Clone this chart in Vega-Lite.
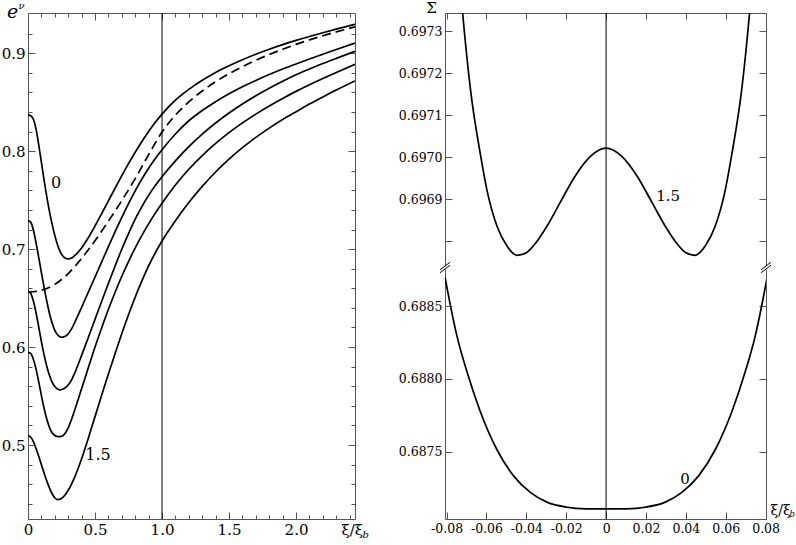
{
  "$schema": "https://vega.github.io/schema/vega-lite/v6.json",
  "background": "white",
  "padding": {"left": 1, "top": 0, "right": 0, "bottom": 0},
  "config": {
    "view": {"stroke": null},
    "font": "DejaVu Serif",
    "axis": {
      "grid": false, "domainColor": "#555", "tickColor": "#555", "domainWidth": 1, "tickWidth": 1,
      "labelColor": "black", "labelFont": "DejaVu Serif", "titleFont": "DejaVu Serif",
      "titleFontWeight": "normal", "titleColor": "black",
      "labelFlush": false, "labelOverlap": false, "labelBound": false
    },
    "text": {"font": "DejaVu Serif"}
  },
  "datasets": {
    "solid": [
      {"c": "A", "x": 0, "y": 0.837}, {"c": "A", "x": 0.02, "y": 0.8362}, {"c": "A", "x": 0.04, "y": 0.8325}, {"c": "A", "x": 0.06, "y": 0.8225},
      {"c": "A", "x": 0.08, "y": 0.8065}, {"c": "A", "x": 0.1, "y": 0.7885}, {"c": "A", "x": 0.12, "y": 0.7705}, {"c": "A", "x": 0.14, "y": 0.7535},
      {"c": "A", "x": 0.16, "y": 0.7385}, {"c": "A", "x": 0.18, "y": 0.7255}, {"c": "A", "x": 0.2, "y": 0.714}, {"c": "A", "x": 0.22, "y": 0.7045},
      {"c": "A", "x": 0.24, "y": 0.6975}, {"c": "A", "x": 0.26, "y": 0.693}, {"c": "A", "x": 0.28, "y": 0.6907}, {"c": "A", "x": 0.3, "y": 0.69},
      {"c": "A", "x": 0.32, "y": 0.6906}, {"c": "A", "x": 0.35, "y": 0.6936}, {"c": "A", "x": 0.4, "y": 0.7012}, {"c": "A", "x": 0.45, "y": 0.7116},
      {"c": "A", "x": 0.5, "y": 0.7236}, {"c": "A", "x": 0.55, "y": 0.7363}, {"c": "A", "x": 0.6, "y": 0.7493}, {"c": "A", "x": 0.65, "y": 0.7623},
      {"c": "A", "x": 0.7, "y": 0.775}, {"c": "A", "x": 0.75, "y": 0.7872}, {"c": "A", "x": 0.8, "y": 0.7989}, {"c": "A", "x": 0.85, "y": 0.8098},
      {"c": "A", "x": 0.9, "y": 0.82}, {"c": "A", "x": 0.95, "y": 0.8294}, {"c": "A", "x": 1.0, "y": 0.8378}, {"c": "A", "x": 1.1, "y": 0.852},
      {"c": "A", "x": 1.2, "y": 0.863}, {"c": "A", "x": 1.3, "y": 0.8723}, {"c": "A", "x": 1.4, "y": 0.8803}, {"c": "A", "x": 1.5, "y": 0.8871},
      {"c": "A", "x": 1.6, "y": 0.8933}, {"c": "A", "x": 1.7, "y": 0.8989}, {"c": "A", "x": 1.8, "y": 0.904}, {"c": "A", "x": 1.9, "y": 0.9087},
      {"c": "A", "x": 2.0, "y": 0.913}, {"c": "A", "x": 2.1, "y": 0.917}, {"c": "A", "x": 2.2, "y": 0.9208}, {"c": "A", "x": 2.3, "y": 0.9245},
      {"c": "A", "x": 2.44, "y": 0.9295},

      {"c": "B", "x": 0, "y": 0.729}, {"c": "B", "x": 0.02, "y": 0.7275}, {"c": "B", "x": 0.04, "y": 0.7195}, {"c": "B", "x": 0.06, "y": 0.7065},
      {"c": "B", "x": 0.08, "y": 0.6915}, {"c": "B", "x": 0.1, "y": 0.676}, {"c": "B", "x": 0.12, "y": 0.661}, {"c": "B", "x": 0.14, "y": 0.647},
      {"c": "B", "x": 0.16, "y": 0.6345}, {"c": "B", "x": 0.18, "y": 0.6245}, {"c": "B", "x": 0.2, "y": 0.617}, {"c": "B", "x": 0.22, "y": 0.6125},
      {"c": "B", "x": 0.24, "y": 0.6104}, {"c": "B", "x": 0.25, "y": 0.61}, {"c": "B", "x": 0.275, "y": 0.6108}, {"c": "B", "x": 0.3, "y": 0.6135},
      {"c": "B", "x": 0.325, "y": 0.6185}, {"c": "B", "x": 0.35, "y": 0.6255}, {"c": "B", "x": 0.4, "y": 0.6405}, {"c": "B", "x": 0.45, "y": 0.656},
      {"c": "B", "x": 0.5, "y": 0.6715}, {"c": "B", "x": 0.55, "y": 0.687}, {"c": "B", "x": 0.6, "y": 0.7025}, {"c": "B", "x": 0.65, "y": 0.7178},
      {"c": "B", "x": 0.7, "y": 0.7325}, {"c": "B", "x": 0.75, "y": 0.7465}, {"c": "B", "x": 0.8, "y": 0.7595}, {"c": "B", "x": 0.85, "y": 0.7715},
      {"c": "B", "x": 0.9, "y": 0.7825}, {"c": "B", "x": 0.95, "y": 0.7925}, {"c": "B", "x": 1.0, "y": 0.8015}, {"c": "B", "x": 1.1, "y": 0.8175},
      {"c": "B", "x": 1.2, "y": 0.831}, {"c": "B", "x": 1.3, "y": 0.8415}, {"c": "B", "x": 1.4, "y": 0.8505}, {"c": "B", "x": 1.5, "y": 0.8585},
      {"c": "B", "x": 1.6, "y": 0.8657}, {"c": "B", "x": 1.7, "y": 0.8722}, {"c": "B", "x": 1.8, "y": 0.8782}, {"c": "B", "x": 1.9, "y": 0.8838},
      {"c": "B", "x": 2.0, "y": 0.889}, {"c": "B", "x": 2.1, "y": 0.894}, {"c": "B", "x": 2.2, "y": 0.8989}, {"c": "B", "x": 2.3, "y": 0.9037},
      {"c": "B", "x": 2.44, "y": 0.9104},

      {"c": "C", "x": 0, "y": 0.657}, {"c": "C", "x": 0.02, "y": 0.655}, {"c": "C", "x": 0.04, "y": 0.647}, {"c": "C", "x": 0.06, "y": 0.635},
      {"c": "C", "x": 0.08, "y": 0.6205}, {"c": "C", "x": 0.1, "y": 0.6055}, {"c": "C", "x": 0.12, "y": 0.592}, {"c": "C", "x": 0.14, "y": 0.5805},
      {"c": "C", "x": 0.16, "y": 0.5712}, {"c": "C", "x": 0.18, "y": 0.5643}, {"c": "C", "x": 0.2, "y": 0.5597}, {"c": "C", "x": 0.22, "y": 0.5572},
      {"c": "C", "x": 0.239, "y": 0.5564}, {"c": "C", "x": 0.27, "y": 0.5578}, {"c": "C", "x": 0.3, "y": 0.5612}, {"c": "C", "x": 0.325, "y": 0.5665},
      {"c": "C", "x": 0.35, "y": 0.574}, {"c": "C", "x": 0.4, "y": 0.5915}, {"c": "C", "x": 0.45, "y": 0.6098}, {"c": "C", "x": 0.5, "y": 0.6283},
      {"c": "C", "x": 0.55, "y": 0.6468}, {"c": "C", "x": 0.6, "y": 0.665}, {"c": "C", "x": 0.65, "y": 0.6828}, {"c": "C", "x": 0.7, "y": 0.6998},
      {"c": "C", "x": 0.75, "y": 0.7158}, {"c": "C", "x": 0.8, "y": 0.7305}, {"c": "C", "x": 0.85, "y": 0.7435}, {"c": "C", "x": 0.9, "y": 0.7548},
      {"c": "C", "x": 0.95, "y": 0.7648}, {"c": "C", "x": 1.0, "y": 0.7738}, {"c": "C", "x": 1.1, "y": 0.79}, {"c": "C", "x": 1.2, "y": 0.8045},
      {"c": "C", "x": 1.3, "y": 0.8173}, {"c": "C", "x": 1.4, "y": 0.8287}, {"c": "C", "x": 1.5, "y": 0.8389}, {"c": "C", "x": 1.6, "y": 0.8481},
      {"c": "C", "x": 1.7, "y": 0.8565}, {"c": "C", "x": 1.8, "y": 0.8642}, {"c": "C", "x": 1.9, "y": 0.8713}, {"c": "C", "x": 2.0, "y": 0.8779},
      {"c": "C", "x": 2.1, "y": 0.8838}, {"c": "C", "x": 2.2, "y": 0.8894}, {"c": "C", "x": 2.3, "y": 0.8947}, {"c": "C", "x": 2.44, "y": 0.9019},

      {"c": "D", "x": 0, "y": 0.5946}, {"c": "D", "x": 0.02, "y": 0.5935}, {"c": "D", "x": 0.04, "y": 0.5875}, {"c": "D", "x": 0.06, "y": 0.5775},
      {"c": "D", "x": 0.08, "y": 0.5645}, {"c": "D", "x": 0.1, "y": 0.5505}, {"c": "D", "x": 0.12, "y": 0.5375}, {"c": "D", "x": 0.14, "y": 0.5265},
      {"c": "D", "x": 0.16, "y": 0.518}, {"c": "D", "x": 0.18, "y": 0.5125}, {"c": "D", "x": 0.2, "y": 0.5097}, {"c": "D", "x": 0.22, "y": 0.5087},
      {"c": "D", "x": 0.236, "y": 0.5085}, {"c": "D", "x": 0.26, "y": 0.5095}, {"c": "D", "x": 0.28, "y": 0.5125}, {"c": "D", "x": 0.3, "y": 0.5175},
      {"c": "D", "x": 0.325, "y": 0.5262}, {"c": "D", "x": 0.35, "y": 0.5362}, {"c": "D", "x": 0.375, "y": 0.5468}, {"c": "D", "x": 0.4, "y": 0.5575},
      {"c": "D", "x": 0.45, "y": 0.579}, {"c": "D", "x": 0.5, "y": 0.6}, {"c": "D", "x": 0.55, "y": 0.6198}, {"c": "D", "x": 0.6, "y": 0.6385},
      {"c": "D", "x": 0.65, "y": 0.656}, {"c": "D", "x": 0.7, "y": 0.6723}, {"c": "D", "x": 0.75, "y": 0.6873}, {"c": "D", "x": 0.8, "y": 0.7012},
      {"c": "D", "x": 0.85, "y": 0.714}, {"c": "D", "x": 0.9, "y": 0.7258}, {"c": "D", "x": 0.95, "y": 0.7367}, {"c": "D", "x": 1.0, "y": 0.7468},
      {"c": "D", "x": 1.1, "y": 0.7655}, {"c": "D", "x": 1.2, "y": 0.7815}, {"c": "D", "x": 1.3, "y": 0.7955}, {"c": "D", "x": 1.4, "y": 0.8079},
      {"c": "D", "x": 1.5, "y": 0.8189}, {"c": "D", "x": 1.6, "y": 0.8288}, {"c": "D", "x": 1.7, "y": 0.8378}, {"c": "D", "x": 1.8, "y": 0.8461},
      {"c": "D", "x": 1.9, "y": 0.8538}, {"c": "D", "x": 2.0, "y": 0.861}, {"c": "D", "x": 2.1, "y": 0.8678}, {"c": "D", "x": 2.2, "y": 0.8742},
      {"c": "D", "x": 2.3, "y": 0.8803}, {"c": "D", "x": 2.44, "y": 0.8886},

      {"c": "E", "x": 0, "y": 0.5095}, {"c": "E", "x": 0.02, "y": 0.5082}, {"c": "E", "x": 0.04, "y": 0.5035}, {"c": "E", "x": 0.06, "y": 0.4965},
      {"c": "E", "x": 0.08, "y": 0.4885}, {"c": "E", "x": 0.1, "y": 0.48}, {"c": "E", "x": 0.12, "y": 0.4715}, {"c": "E", "x": 0.14, "y": 0.4634},
      {"c": "E", "x": 0.16, "y": 0.4562}, {"c": "E", "x": 0.18, "y": 0.4503}, {"c": "E", "x": 0.2, "y": 0.4462}, {"c": "E", "x": 0.22, "y": 0.4443},
      {"c": "E", "x": 0.25, "y": 0.4455}, {"c": "E", "x": 0.275, "y": 0.4487}, {"c": "E", "x": 0.3, "y": 0.4538}, {"c": "E", "x": 0.325, "y": 0.4602},
      {"c": "E", "x": 0.35, "y": 0.4678}, {"c": "E", "x": 0.375, "y": 0.4765}, {"c": "E", "x": 0.4, "y": 0.486}, {"c": "E", "x": 0.45, "y": 0.507},
      {"c": "E", "x": 0.5, "y": 0.529}, {"c": "E", "x": 0.55, "y": 0.551}, {"c": "E", "x": 0.6, "y": 0.5725}, {"c": "E", "x": 0.65, "y": 0.5935},
      {"c": "E", "x": 0.7, "y": 0.6138}, {"c": "E", "x": 0.75, "y": 0.633}, {"c": "E", "x": 0.8, "y": 0.651}, {"c": "E", "x": 0.85, "y": 0.6675},
      {"c": "E", "x": 0.9, "y": 0.6828}, {"c": "E", "x": 0.95, "y": 0.6963}, {"c": "E", "x": 1.0, "y": 0.7083}, {"c": "E", "x": 1.1, "y": 0.729},
      {"c": "E", "x": 1.2, "y": 0.7475}, {"c": "E", "x": 1.3, "y": 0.764}, {"c": "E", "x": 1.4, "y": 0.7787}, {"c": "E", "x": 1.5, "y": 0.7918},
      {"c": "E", "x": 1.6, "y": 0.8035}, {"c": "E", "x": 1.7, "y": 0.814}, {"c": "E", "x": 1.8, "y": 0.8235}, {"c": "E", "x": 1.9, "y": 0.8322},
      {"c": "E", "x": 2.0, "y": 0.8402}, {"c": "E", "x": 2.1, "y": 0.848}, {"c": "E", "x": 2.2, "y": 0.8553}, {"c": "E", "x": 2.3, "y": 0.8623},
      {"c": "E", "x": 2.44, "y": 0.8717}
    ],
    "dashed": [
      {"x": 0, "y": 0.656}, {"x": 0.1, "y": 0.658}, {"x": 0.2, "y": 0.664}, {"x": 0.3, "y": 0.675}, {"x": 0.4, "y": 0.6905},
      {"x": 0.5, "y": 0.7085}, {"x": 0.6, "y": 0.7285}, {"x": 0.7, "y": 0.7495}, {"x": 0.8, "y": 0.772}, {"x": 0.9, "y": 0.7965},
      {"x": 0.95, "y": 0.8083}, {"x": 1.0, "y": 0.8195}, {"x": 1.05, "y": 0.8288}, {"x": 1.1, "y": 0.8368}, {"x": 1.2, "y": 0.8503},
      {"x": 1.3, "y": 0.8614}, {"x": 1.4, "y": 0.8709}, {"x": 1.5, "y": 0.879}, {"x": 1.6, "y": 0.8862}, {"x": 1.7, "y": 0.8927},
      {"x": 1.8, "y": 0.8986}, {"x": 1.9, "y": 0.904}, {"x": 2.0, "y": 0.909}, {"x": 2.1, "y": 0.9136}, {"x": 2.2, "y": 0.9178},
      {"x": 2.3, "y": 0.9217}, {"x": 2.44, "y": 0.9268}
    ],
    "labelsLeft": [
      {"t": "0", "x": 0.209, "y": 0.7673},
      {"t": "1.5", "x": 0.522, "y": 0.4898}
    ],
    "sigma15": [
      {"x": -0.075, "y": 0.69752}, {"x": -0.0719, "y": 0.69734}, {"x": -0.068, "y": 0.69716}, {"x": -0.063, "y": 0.697005},
      {"x": -0.0597, "y": 0.69692}, {"x": -0.0547, "y": 0.696835}, {"x": -0.0497, "y": 0.696788}, {"x": -0.0447, "y": 0.696766},
      {"x": -0.04, "y": 0.696772}, {"x": -0.035, "y": 0.696797}, {"x": -0.0297, "y": 0.696835}, {"x": -0.023, "y": 0.696892},
      {"x": -0.0155, "y": 0.696955}, {"x": -0.008, "y": 0.697001}, {"x": 0, "y": 0.697021},
      {"x": 0.008, "y": 0.697001}, {"x": 0.0155, "y": 0.696955}, {"x": 0.023, "y": 0.696892}, {"x": 0.0297, "y": 0.696835},
      {"x": 0.035, "y": 0.696797}, {"x": 0.04, "y": 0.696772}, {"x": 0.0447, "y": 0.696766}, {"x": 0.0497, "y": 0.696788},
      {"x": 0.0547, "y": 0.696835}, {"x": 0.0597, "y": 0.69692}, {"x": 0.063, "y": 0.697005}, {"x": 0.068, "y": 0.69716},
      {"x": 0.0719, "y": 0.69734}, {"x": 0.075, "y": 0.69752}
    ],
    "sigma0": [
      {"x": -0.0808, "y": 0.6887}, {"x": -0.078, "y": 0.6885}, {"x": -0.0747, "y": 0.68829}, {"x": -0.07, "y": 0.68806},
      {"x": -0.0632, "y": 0.68778}, {"x": -0.0548, "y": 0.687515}, {"x": -0.0463, "y": 0.687332}, {"x": -0.038, "y": 0.68722},
      {"x": -0.0297, "y": 0.687153}, {"x": -0.0197, "y": 0.687118}, {"x": -0.01, "y": 0.687107}, {"x": 0, "y": 0.687106},
      {"x": 0.01, "y": 0.687107}, {"x": 0.0197, "y": 0.687118}, {"x": 0.0297, "y": 0.687153}, {"x": 0.038, "y": 0.68722},
      {"x": 0.0463, "y": 0.687332}, {"x": 0.0548, "y": 0.687515}, {"x": 0.0632, "y": 0.68778}, {"x": 0.07, "y": 0.68806},
      {"x": 0.0747, "y": 0.68829}, {"x": 0.078, "y": 0.6885}, {"x": 0.0808, "y": 0.6887}
    ],
    "labelTop": [{"t": "1.5", "x": 0.0311, "y": 0.696907}],
    "labelBottom": [{"t": "0", "x": 0.0396, "y": 0.687312}],
    "edges": [{"x": -0.0808}, {"x": 0.0802}]
  },
  "bounds": "flush",
  "spacing": 90,
  "hconcat": [
    {
      "width": 327,
      "height": 506,
      "layer": [
        {
          "data": {"name": "solid"},
          "mark": {"type": "line", "interpolate": "monotone", "color": "black", "strokeWidth": 1.7, "clip": true},
          "encoding": {
            "x": {
              "field": "x", "type": "quantitative",
              "scale": {"domain": [0, 2.44], "nice": false, "zero": false},
              "axis": {
                "orient": "bottom",
                "values": [0, 0.1, 0.2, 0.3, 0.4, 0.5, 0.6, 0.7, 0.8, 0.9, 1, 1.1, 1.2, 1.3, 1.4, 1.5, 1.6, 1.7, 1.8, 1.9, 2, 2.1, 2.2, 2.3, 2.4],
                "tickSize": {"condition": {"test": "abs(datum.value*2 - round(datum.value*2)) < 0.001", "value": -7}, "value": -4},
                "labelPadding": 10, "labelFontSize": 15,
                "labelExpr": "abs(datum.value*2 - round(datum.value*2)) < 0.001 ? (datum.value == 0 ? '0' : format(datum.value, '.1f')) : ''",
                "title": "ξ/ξ", "titleFontSize": 15, "titleAngle": 0, "titleAlign": "left", "titleBaseline": "alphabetic",
                "titleX": 313, "titleY": 15
              }
            },
            "y": {
              "field": "y", "type": "quantitative",
              "scale": {"domain": [0.4245, 0.941], "nice": false, "zero": false},
              "axis": {
                "orient": "left",
                "values": [0.44, 0.46, 0.48, 0.5, 0.52, 0.54, 0.56, 0.58, 0.6, 0.62, 0.64, 0.66, 0.68, 0.7, 0.72, 0.74, 0.76, 0.78, 0.8, 0.82, 0.84, 0.86, 0.88, 0.9, 0.92],
                "tickSize": {"condition": {"test": "abs(datum.value*10 - round(datum.value*10)) < 0.001", "value": -7}, "value": -4},
                "labelPadding": 10, "labelFontSize": 15,
                "labelExpr": "abs(datum.value*10 - round(datum.value*10)) < 0.001 ? format(datum.value, '.1f') : ''",
                "title": "e", "titleFontSize": 19, "titleFontStyle": "italic", "titleAngle": 0, "titleAlign": "center", "titleBaseline": "alphabetic",
                "titleX": -16, "titleY": 4
              }
            },
            "detail": {"field": "c"}
          }
        },
        {
          "data": {"name": "dashed"},
          "mark": {"type": "line", "interpolate": "monotone", "color": "black", "strokeWidth": 1.7, "strokeDash": [9, 5], "clip": true},
          "encoding": {
            "x": {
              "field": "x", "type": "quantitative",
              "axis": {
                "orient": "top",
                "values": [0, 0.1, 0.2, 0.3, 0.4, 0.5, 0.6, 0.7, 0.8, 0.9, 1, 1.1, 1.2, 1.3, 1.4, 1.5, 1.6, 1.7, 1.8, 1.9, 2, 2.1, 2.2, 2.3, 2.4],
                "tickSize": {"condition": {"test": "abs(datum.value*2 - round(datum.value*2)) < 0.001", "value": -7}, "value": -4},
                "labels": false,
                "title": "b", "titleFontSize": 10, "titleFontStyle": "italic", "titleAngle": 0, "titleAlign": "left", "titleBaseline": "alphabetic",
                "titleX": 334, "titleY": 524
              }
            },
            "y": {
              "field": "y", "type": "quantitative",
              "axis": {
                "orient": "right",
                "values": [0.44, 0.46, 0.48, 0.5, 0.52, 0.54, 0.56, 0.58, 0.6, 0.62, 0.64, 0.66, 0.68, 0.7, 0.72, 0.74, 0.76, 0.78, 0.8, 0.82, 0.84, 0.86, 0.88, 0.9, 0.92],
                "tickSize": {"condition": {"test": "abs(datum.value*10 - round(datum.value*10)) < 0.001", "value": -7}, "value": -4},
                "labels": false,
                "title": "ν", "titleFontSize": 10, "titleFontStyle": "italic", "titleAngle": 0, "titleAlign": "center", "titleBaseline": "alphabetic",
                "titleX": -334, "titleY": -5
              }
            }
          }
        },
        {
          "data": {"name": "labelsLeft"},
          "mark": {"type": "text", "fontSize": 16, "color": "black", "align": "center", "baseline": "middle"},
          "encoding": {
            "x": {"field": "x", "type": "quantitative", "axis": null},
            "y": {"field": "y", "type": "quantitative", "axis": null},
            "text": {"field": "t"}
          }
        },
        {
          "data": {"values": [{}]},
          "mark": {"type": "rule", "color": "black", "strokeWidth": 1},
          "encoding": {"x": {"datum": 1, "type": "quantitative", "axis": null}}
        }
      ],
      "resolve": {"axis": {"x": "independent", "y": "independent"}}
    },
    {
      "bounds": "flush",
      "spacing": 3,
      "vconcat": [
        {
          "width": 321,
          "height": 253,
          "layer": [
            {
              "data": {"name": "sigma15"},
              "mark": {"type": "line", "interpolate": "monotone", "color": "black", "strokeWidth": 1.7, "clip": true},
              "encoding": {
                "x": {
                  "field": "x", "type": "quantitative",
                  "scale": {"domain": [-0.0808, 0.0802], "nice": false, "zero": false},
                  "axis": {"orient": "top", "values": [-0.08, -0.06, -0.04, -0.02, 0, 0.02, 0.04, 0.06, 0.08], "tickSize": -6, "labels": false, "title": null}
                },
                "y": {
                  "field": "y", "type": "quantitative",
                  "scale": {"domain": [0.6967405, 0.697343], "nice": false, "zero": false},
                  "axis": {
                    "orient": "left", "values": [0.6968, 0.6969, 0.697, 0.6971, 0.6972, 0.6973], "tickSize": -7,
                    "labelPadding": 10, "labelFontSize": 12.5,
                    "labelExpr": "datum.value < 0.69685 ? '' : format(datum.value, '.4f')",
                    "title": "Σ", "titleFontSize": 15, "titleAngle": 0, "titleAlign": "center", "titleBaseline": "alphabetic",
                    "titleX": -14, "titleY": -1
                  }
                }
              }
            },
            {
              "data": {"name": "edges"},
              "mark": {"type": "point", "shape": "M-1,0.75L1,-0.75", "filled": false, "stroke": "black", "strokeWidth": 1, "size": 100, "opacity": 1},
              "encoding": {
                "x": {"field": "x", "type": "quantitative", "axis": null},
                "y": {"datum": 0.6967405, "type": "quantitative", "axis": null}
              }
            },
            {
              "data": {"values": [{}]},
              "mark": {"type": "rule", "color": "black", "strokeWidth": 1},
              "encoding": {
                "x": {"datum": 0, "type": "quantitative", "axis": null},
                "y": {"datum": 0.697343, "type": "quantitative", "axis": null},
                "y2": {"datum": 0.6967334}
              }
            },
            {
              "data": {"name": "labelTop"},
              "mark": {"type": "text", "fontSize": 15, "color": "black", "align": "center", "baseline": "middle"},
              "encoding": {
                "x": {"field": "x", "type": "quantitative", "axis": null},
                "y": {
                  "field": "y", "type": "quantitative",
                  "axis": {"orient": "right", "values": [0.6968, 0.6969, 0.697, 0.6971, 0.6972, 0.6973], "tickSize": -7, "labels": false, "title": null}
                },
                "text": {"field": "t"}
              }
            }
          ],
          "resolve": {"axis": {"x": "independent", "y": "independent"}}
        },
        {
          "width": 321,
          "height": 250,
          "layer": [
            {
              "data": {"name": "sigma0"},
              "mark": {"type": "line", "interpolate": "monotone", "color": "black", "strokeWidth": 1.7, "clip": true},
              "encoding": {
                "x": {
                  "field": "x", "type": "quantitative",
                  "scale": {"domain": [-0.0808, 0.0802], "nice": false, "zero": false},
                  "axis": {
                    "orient": "bottom", "values": [-0.08, -0.06, -0.04, -0.02, 0, 0.02, 0.04, 0.06, 0.08], "tickSize": -7,
                    "labelPadding": 10, "labelFontSize": 12.5,
                    "labelExpr": "datum.value == 0 ? '0' : replace(format(datum.value, '.2f'), '−', '-')",
                    "title": "ξ/ξ", "titleFontSize": 14, "titleAngle": 0, "titleAlign": "left", "titleBaseline": "alphabetic",
                    "titleX": 325, "titleY": -5
                  }
                },
                "y": {
                  "field": "y", "type": "quantitative",
                  "scale": {"domain": [0.687037, 0.6887565], "nice": false, "zero": false},
                  "axis": {
                    "orient": "left", "values": [0.6875, 0.688, 0.6885], "tickSize": -7,
                    "labelPadding": 10, "labelFontSize": 12.5,
                    "labelExpr": "format(datum.value, '.4f')",
                    "title": null
                  }
                }
              }
            },
            {
              "data": {"name": "edges"},
              "mark": {"type": "point", "shape": "M-1,0.75L1,-0.75", "filled": false, "stroke": "black", "strokeWidth": 1, "size": 100, "opacity": 1},
              "encoding": {
                "x": {"field": "x", "type": "quantitative", "axis": null},
                "y": {"datum": 0.6887565, "type": "quantitative", "axis": null}
              }
            },
            {
              "data": {"values": [{}]},
              "mark": {"type": "rule", "color": "black", "strokeWidth": 1},
              "encoding": {"x": {"datum": 0, "type": "quantitative", "axis": null}}
            },
            {
              "data": {"name": "labelBottom"},
              "mark": {"type": "text", "fontSize": 15, "color": "black", "align": "center", "baseline": "middle"},
              "encoding": {
                "x": {"field": "x", "type": "quantitative", "axis": null},
                "y": {
                  "field": "y", "type": "quantitative",
                  "axis": {
                    "orient": "right", "values": [0.6875, 0.688, 0.6885], "tickSize": -7, "labels": false,
                    "title": "b", "titleFontSize": 8.5, "titleFontStyle": "italic", "titleAngle": 0, "titleAlign": "left", "titleBaseline": "alphabetic",
                    "titleX": 23, "titleY": 247
                  }
                },
                "text": {"field": "t"}
              }
            }
          ],
          "resolve": {"axis": {"x": "independent", "y": "independent"}}
        }
      ]
    }
  ]
}
